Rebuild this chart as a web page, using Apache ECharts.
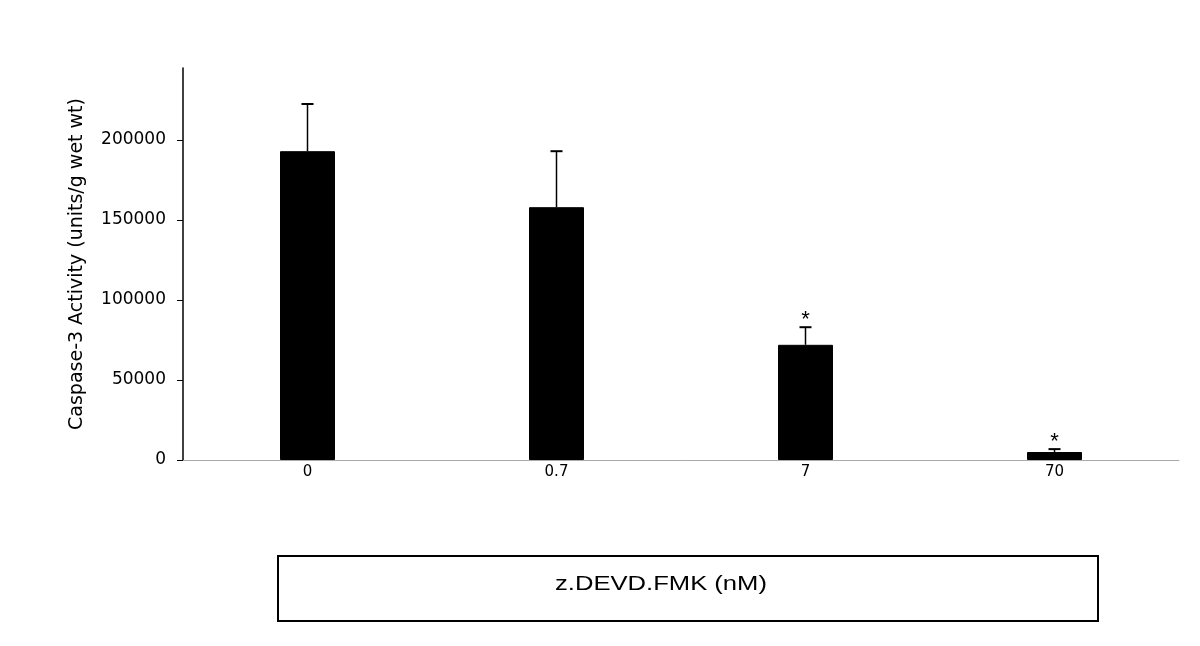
<!DOCTYPE html>
<html>
<head>
<meta charset="utf-8">
<script src="https://cdn.jsdelivr.net/npm/echarts@6/dist/echarts.min.js"></script>
<style>
  html, body { margin: 0; padding: 0; background: #fff; }
  #chart { width: 1200px; height: 646px; }
</style>
</head>
<body>
<div id="chart"></div>
<script>
const categories = ['0', '0.7', '7', '70'];
const activity = [193000, 158000, 72000, 5000];
const errorTop = [222500, 193000, 83000, 6800];
const significant = [false, false, true, true];
const yTicks = [0, 50000, 100000, 150000, 200000];

const chart = echarts.init(document.getElementById('chart'));

const errData = categories.map((c, i) => [i, activity[i], errorTop[i], significant[i] ? 1 : 0]);

chart.setOption({
  animation: false,
  textStyle: { fontFamily: 'DejaVu Sans, sans-serif' },
  grid: { left: 183, right: 21, top: 68, bottom: 186 },
  xAxis: {
    type: 'category',
    data: categories,
    axisLine: { lineStyle: { color: '#aaaaaa', width: 1 } },
    axisTick: { show: false },
    axisLabel: { color: '#000', fontSize: 15, margin: 5 }
  },
  yAxis: {
    type: 'value',
    min: 0,
    max: 245000,
    name: 'Caspase-3 Activity (units/g wet wt)',
    nameLocation: 'middle',
    nameGap: 96,
    nameTextStyle: { color: '#000', fontSize: 19 },
    axisLine: { show: true, lineStyle: { color: '#000', width: 1.5 } },
    axisTick: { show: true, length: 6, customValues: yTicks, lineStyle: { color: '#000' } },
    axisLabel: {
      color: '#000', fontSize: 17, margin: 17, customValues: yTicks,
      formatter: function (v) { return String(v); }
    },
    splitLine: { show: false }
  },
  graphic: [
    {
      type: 'rect',
      shape: { x: 278, y: 556, width: 820, height: 65 },
      style: { fill: '#fff', stroke: '#000', lineWidth: 2 }
    },
    {
      type: 'text',
      x: 661, y: 584,
      scaleX: 1.28,
      style: {
        text: 'z.DEVD.FMK (nM)',
        fill: '#000',
        font: '20px Liberation Sans, Arial, sans-serif',
        align: 'center',
        verticalAlign: 'middle'
      }
    }
  ],
  series: [
    {
      type: 'bar',
      data: activity,
      barWidth: 55,
      itemStyle: { color: '#000', borderColor: '#000', borderWidth: 1 }
    },
    {
      type: 'custom',
      data: errData,
      z: 3,
      renderItem: function (params, api) {
        const top = api.coord([api.value(0), api.value(2)]);
        const base = api.coord([api.value(0), api.value(1)]);
        const cap = 6;
        const children = [
          { type: 'line', shape: { x1: top[0], y1: base[1], x2: top[0], y2: top[1] }, style: { stroke: '#000', lineWidth: 1.5 } },
          { type: 'line', shape: { x1: top[0] - cap, y1: top[1], x2: top[0] + cap, y2: top[1] }, style: { stroke: '#000', lineWidth: 2 } }
        ];
        if (api.value(3)) {
          children.push({
            type: 'text',
            x: top[0], y: top[1] + 4,
            style: { text: '*', fill: '#000', font: '22px Liberation Sans, Arial, sans-serif', align: 'center', verticalAlign: 'bottom' }
          });
        }
        return { type: 'group', children: children };
      }
    }
  ]
});
</script>
</body>
</html>
